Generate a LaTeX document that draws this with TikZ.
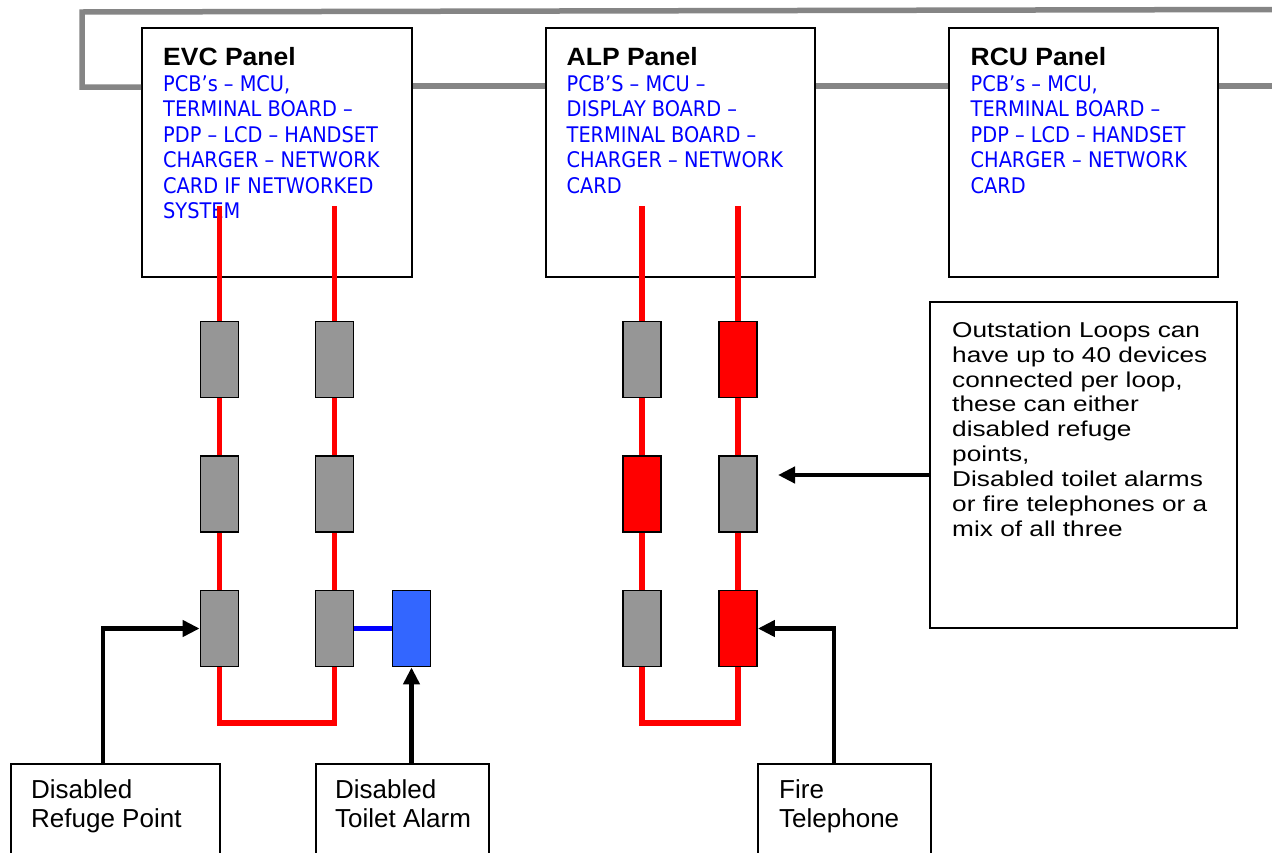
\documentclass[tikz,border=0pt]{standalone}
\usepackage{fontspec}
\setmainfont{Liberation Sans}
\newfontfamily\tahoma{DejaVu Sans Condensed}
\newfontfamily\widesans[FakeStretch=1.22]{Liberation Sans}
\newfontfamily\titlefont[FakeStretch=1.06]{Liberation Sans}
\usetikzlibrary{arrows.meta}
\definecolor{netgray}{HTML}{858585}
\definecolor{devgray}{HTML}{969696}
\definecolor{devblue}{HTML}{3366FF}
\definecolor{loopred}{HTML}{FF0000}
\definecolor{linkblue}{HTML}{0000FF}
\tikzset{
  net/.style={draw=netgray, line width=5.5pt},
  panel/.style={draw=black, line width=1.8pt, fill=white, inner sep=0pt, minimum width=269pt, minimum height=249pt},
  ptext/.style={align=left, inner sep=0pt, text=linkblue, font=\tahoma\fontsize{21.5}{25.5}\selectfont},
  dev/.style={draw=black, line width=1.8pt, inner sep=0pt, minimum width=38pt, minimum height=76pt},
  loopline/.style={draw=loopred, line width=5.5pt},
  bluelink/.style={draw=linkblue, line width=5pt},
  arr/.style={draw=black, line width=4.5pt, -{Triangle[length=17pt,width=16pt]}},
  box/.style={draw=black, line width=1.5pt, fill=white, inner sep=0pt},
  otext/.style={align=left, inner sep=0pt, font=\widesans\fontsize{21.5}{24.9}\selectfont},
  btext/.style={align=left, inner sep=0pt, font=\fontsize{26}{29}\selectfont}
}
\begin{document}
\begin{tikzpicture}[x=1pt,y=-1pt]
\clip (0,0) rectangle (1272,852);
\fill[white] (0,0) rectangle (1272,852);

% panels
\node[panel, minimum width=270pt] (evc) at (277,152.5) {};
\node[panel] (alp) at (680.5,152.5) {};
\node[panel] (rcu) at (1083.5,152.5) {};

% network line
\coordinate (netL) at (82,87);
\coordinate (netTL) at (82,12);
\coordinate (netTR) at (1272,9.5);
\coordinate (netY) at (0,86);
\coordinate (netR) at (1272,86);
\draw[net] (evc.west |- netL) -- (netL) -- (netTL) -- (netTR);
\draw[net] (evc.east |- netY) -- (alp.west |- netY);
\draw[net] (alp.east |- netY) -- (rcu.west |- netY);
\draw[net] (rcu.east |- netY) -- (netR);

% panel texts
\node[ptext, anchor=north west] (evct) at (163,47.5) {{\titlefont\bfseries\fontsize{25}{25.5}\selectfont\color{black}EVC Panel}\\PCB’s – MCU,\\TERMINAL BOARD –\\PDP – LCD – HANDSET\\CHARGER – NETWORK\\CARD IF NETWORKED\\SYSTEM};
\node[ptext, anchor=north west] (alpt) at (566.5,47.5) {{\titlefont\bfseries\fontsize{25}{25.5}\selectfont\color{black}ALP Panel}\\PCB’S – MCU –\\DISPLAY BOARD –\\TERMINAL BOARD –\\CHARGER – NETWORK\\CARD};
\node[ptext, anchor=north west] (rcut) at (970.5,47.5) {{\titlefont\bfseries\fontsize{25}{25.5}\selectfont\color{black}RCU Panel}\\PCB’s – MCU,\\TERMINAL BOARD –\\PDP – LCD – HANDSET\\CHARGER – NETWORK\\CARD};

% devices EVC loop
\node[dev, fill=devgray] (e11) at (219.5,359.5) {};
\node[dev, fill=devgray] (e12) at (219.5,494) {};
\node[dev, fill=devgray] (e13) at (219.5,628.5) {};
\node[dev, fill=devgray] (e21) at (334.5,359.5) {};
\node[dev, fill=devgray] (e22) at (334.5,494) {};
\node[dev, fill=devgray] (e23) at (334.5,628.5) {};
\node[dev, fill=devblue] (eb) at (411.5,628.5) {};

% devices ALP loop
\node[dev, fill=devgray] (a11) at (642,359.5) {};
\node[dev, fill=loopred] (a12) at (642,494) {};
\node[dev, fill=devgray] (a13) at (642,628.5) {};
\node[dev, fill=loopred] (a21) at (738,359.5) {};
\node[dev, fill=devgray] (a22) at (738,494) {};
\node[dev, fill=loopred] (a23) at (738,628.5) {};

% loops
\coordinate (eA) at (219.5,206);
\coordinate (eB) at (334.5,206);
\coordinate (eU) at (277,723);
\coordinate (aA) at (642,206);
\coordinate (aB) at (738,206);
\coordinate (aU) at (690,723);
\draw[loopline] (eA) -- (e11) -- (e12) -- (e13) |- (eU) -| (e23) -- (e22) -- (e21) -- (eB);
\draw[loopline] (aA) -- (a11) -- (a12) -- (a13) |- (aU) -| (a23) -- (a22) -- (a21) -- (aB);
\draw[bluelink] (e23) -- (eb);

% outstation box
\node[box, minimum width=307pt, minimum height=326pt] (out) at (1083.5,465) {};
\node[otext, anchor=north west] (outt) at (952,321.5) {Outstation Loops can\\have up to 40 devices\\connected per loop,\\these can either\\disabled refuge\\points,\\Disabled toilet alarms\\or fire telephones or a\\mix of all three};
\coordinate (outY) at (0,475);
\coordinate (outTip) at (778,475);
\draw[arr] (out.west |- outY) -- (outTip);

% bottom boxes
\node[box, anchor=north west, minimum width=209pt, minimum height=130pt] (refuge) at (10,763) {};
\node[box, anchor=north west, minimum width=173pt, minimum height=130pt] (toilet) at (315,763) {};
\node[box, anchor=north west, minimum width=173pt, minimum height=130pt] (fire) at (757,763) {};
\node[btext, anchor=north west] (refuget) at (31,779) {Disabled\\Refuge Point};
\node[btext, anchor=north west] (toilett) at (335,779) {Disabled\\Toilet Alarm};
\node[btext, anchor=north west] (firet) at (779,779) {Fire\\Telephone};

% arrows from bottom boxes
\coordinate (rfx) at (103,0);
\coordinate (ffx) at (834,0);
\draw[arr] (refuge.north -| rfx) |- (e13.west);
\draw[arr] (toilet.north -| eb) -- (eb.south);
\draw[arr] (fire.north -| ffx) |- (a23.east);
\end{tikzpicture}
\end{document}
